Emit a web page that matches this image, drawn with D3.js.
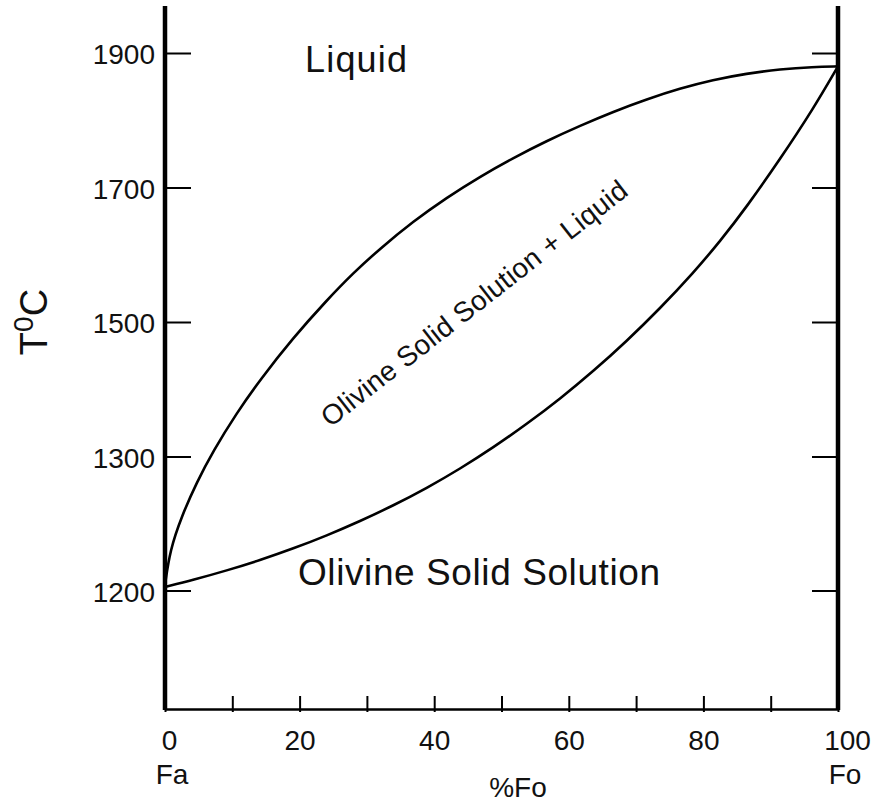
<!DOCTYPE html>
<html>
<head>
<meta charset="utf-8">
<script src="https://cdn.jsdelivr.net/npm/d3@7"></script>
<style>
  body { margin: 0; background: #fff; }
  svg text { font-family: "Liberation Sans", Arial, sans-serif; fill: #111; }
</style>
</head>
<body>
<div id="chart"></div>
<script>
// liquidus (upper curve): %Fo and temperature
const liquidusFo = [0, 0.74, 2.48, 4.71, 7.13, 10.65, 14.11, 19.02, 24.03, 27.98, 31.95, 36.85, 41.86, 46.8, 51.7, 56.7, 61.7, 66.6, 71.6, 76.5, 81.4, 86.4, 91.4, 96.3, 100];
const liquidusT  = [1204.1, 1230.2, 1255.5, 1280.7, 1307.6, 1364.7, 1413.9, 1476.2, 1532.3, 1573.0, 1609.1, 1649.4, 1685.0, 1716.2, 1743.7, 1769.3, 1792.0, 1812.7, 1831.3, 1847.2, 1860.0, 1869.5, 1875.9, 1879.3, 1880.1];

// solidus (lower curve)
const solidusFo = [0, 4.2, 9.17, 14.1, 19.07, 24.03, 28.97, 33.92, 38.89, 43.83, 48.78, 53.74, 58.7, 63.64, 68.6, 73.55, 78.5, 82.47, 86.44, 91.38, 96.33, 100];
const solidusT  = [1202.6, 1207.9, 1214.9, 1222.6, 1231.3, 1241.0, 1251.7, 1263.4, 1276.4, 1290.8, 1313.4, 1348.2, 1385.8, 1426.8, 1471.6, 1520.1, 1573.0, 1619.9, 1671.4, 1741.8, 1817.0, 1880.1];

// axes
const xTicks = [0, 10, 20, 30, 40, 50, 60, 70, 80, 90, 100];
const yTicks = [1200, 1300, 1500, 1700, 1900];
const endLabels = { 0: "Fa", 100: "Fo" };

const W = 877, H = 804;
const plotLeft = 165, plotRight = 838, plotTop = 6, plotBottom = 709;

const svg = d3.select("#chart").append("svg")
    .attr("width", W)
    .attr("height", H);

const x = d3.scaleLinear().domain([0, 100]).range([plotLeft, plotRight]);
// the diagram's temperature axis is broken: 1200-1300 is drawn as wide as 200 degrees above
const y = d3.scaleLinear().domain([1200, 1300, 1900]).range([590.5, 456.5, 53]);

// bottom axis
const xAxis = svg.append("g")
    .attr("transform", `translate(0,${plotBottom})`)
    .call(d3.axisBottom(x)
        .tickValues(xTicks)
        .tickSizeInner(-13)
        .tickSizeOuter(0)
        .tickPadding(21)
        .tickFormat(d => d % 20 === 0 ? d : ""));
xAxis.select(".domain").attr("stroke", "#000").attr("stroke-width", 2.5);
xAxis.selectAll(".tick line").attr("y1", 3).attr("stroke", "#000").attr("stroke-width", 2);
xAxis.selectAll(".tick text")
    .attr("font-size", 28)
    .attr("dx", d => d === 0 ? 4 : d === 100 ? 9 : 0);
xAxis.attr("font-family", null).attr("font-size", null);

// end member names under the axis
svg.append("g").selectAll("text")
    .data([0, 100])
    .enter()
    .append("text")
    .attr("x", d => x(d) + 7)
    .attr("y", 784)
    .attr("text-anchor", "middle")
    .attr("font-size", 28)
    .text(d => endLabels[d]);

svg.append("text")
    .attr("x", 518)
    .attr("y", 797)
    .attr("text-anchor", "middle")
    .attr("font-size", 28)
    .text("%Fo");

// left axis
const yAxis = svg.append("g")
    .attr("transform", `translate(${plotLeft},0)`)
    .call(d3.axisLeft(y)
        .tickValues(yTicks)
        .tickSizeInner(-26)
        .tickSizeOuter(0)
        .tickPadding(10)
        .tickFormat(d3.format("d")));
yAxis.select(".domain").remove();
yAxis.selectAll(".tick line").attr("stroke", "#000").attr("stroke-width", 2);
yAxis.selectAll(".tick text")
    .attr("font-size", 28)
    .attr("dy", "0.38em");
yAxis.attr("font-family", null).attr("font-size", null);

// right axis, ticks only
const yAxisR = svg.append("g")
    .attr("transform", `translate(${plotRight},0)`)
    .call(d3.axisRight(y)
        .tickValues(yTicks)
        .tickSizeInner(-26)
        .tickSizeOuter(0)
        .tickFormat(""));
yAxisR.select(".domain").remove();
yAxisR.selectAll(".tick line").attr("stroke", "#000").attr("stroke-width", 2);

// heavy vertical frame lines
svg.append("g").selectAll("line")
    .data([0, 100])
    .enter()
    .append("line")
    .attr("x1", d => x(d))
    .attr("x2", d => x(d))
    .attr("y1", plotTop)
    .attr("y2", plotBottom + 1)
    .attr("stroke", "#000")
    .attr("stroke-width", 4.5);

// y title  T⁰C
const yTitle = svg.append("text")
    .attr("transform", "translate(47,322) rotate(-90)")
    .attr("text-anchor", "middle")
    .attr("font-size", 38);
yTitle.append("tspan").text("T");
yTitle.append("tspan").attr("font-size", 28).attr("dy", -14).text("0");
yTitle.append("tspan").attr("dy", 14).text("C");

// curves
const line = d3.line()
    .x(d => x(d[0]))
    .y(d => y(d[1]))
    .curve(d3.curveBasis);

const liquidus = liquidusFo.map((f, i) => [f, liquidusT[i]]);
const solidus = solidusFo.map((f, i) => [f, solidusT[i]]);

svg.append("g").selectAll("path")
    .data([liquidus, solidus])
    .enter()
    .append("path")
    .attr("d", line)
    .attr("fill", "none")
    .attr("stroke", "#000")
    .attr("stroke-width", 2.6)
    .attr("stroke-linejoin", "round");

// field labels
svg.append("text")
    .attr("x", 305)
    .attr("y", 72)
    .attr("font-size", 36)
    .attr("textLength", 102)
    .attr("lengthAdjust", "spacing")
    .text("Liquid");

svg.append("text")
    .attr("x", 298)
    .attr("y", 585)
    .attr("font-size", 37)
    .attr("textLength", 362)
    .attr("lengthAdjust", "spacing")
    .text("Olivine Solid Solution");

svg.append("text")
    .attr("transform", "translate(480,311) rotate(-38)")
    .attr("text-anchor", "middle")
    .attr("font-size", 28)
    .attr("textLength", 380)
    .attr("lengthAdjust", "spacing")
    .text("Olivine Solid Solution + Liquid");
</script>
</body>
</html>
